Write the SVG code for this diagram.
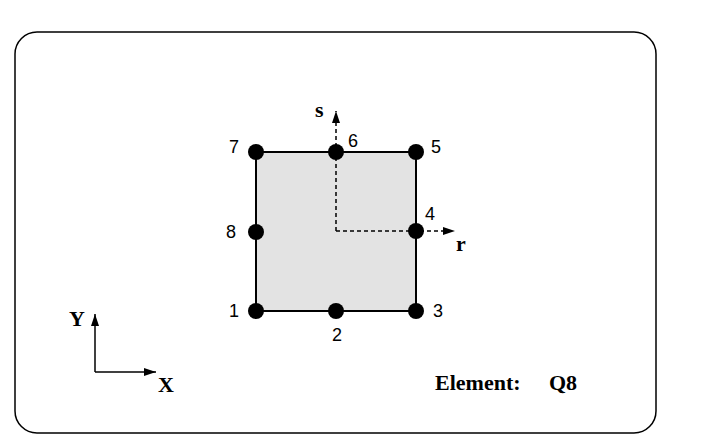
<svg xmlns="http://www.w3.org/2000/svg" width="705" height="448" viewBox="0 0 705 448">
<style>
.n{font-family:"Liberation Sans",Arial,sans-serif;font-size:18px}
.b{font-family:"Liberation Serif","Times New Roman",serif;font-size:22px;font-weight:bold}
.d{fill:#000}
</style>
<defs><marker id="a" markerWidth="12" markerHeight="8" refX="12" refY="4" orient="auto" markerUnits="userSpaceOnUse"><path d="M0,0L12,4L0,8z"/></marker></defs>
<rect x="0" y="0" width="705" height="448" fill="#fff"/>
<rect x="15" y="32" width="641" height="401" rx="22" fill="none" stroke="#000" stroke-width="1.5"/>
<g id="element"><rect x="256" y="152" width="160" height="159" fill="#e3e3e3" stroke="#000" stroke-width="2"/></g>
<g id="connectors" stroke="#000" stroke-width="1.5" fill="none">
<path d="M336,231V111" stroke-dasharray="4,3" marker-end="url(#a)"/>
<path d="M336,231H455" stroke-dasharray="4,3" marker-end="url(#a)"/>
<path d="M95,372V314" marker-end="url(#a)"/>
<path d="M95,372H156" marker-end="url(#a)"/>
</g>
<g id="nodes">
<g id="n1"><circle class="d" cx="256" cy="311" r="8"/><text class="n" x="229" y="317">1</text></g>
<g id="n2"><circle class="d" cx="336" cy="311" r="8"/><text class="n" x="332" y="341">2</text></g>
<g id="n3"><circle class="d" cx="416" cy="311" r="8"/><text class="n" x="433" y="317">3</text></g>
<g id="n4"><circle class="d" cx="416" cy="231" r="8"/><text class="n" x="425" y="220">4</text></g>
<g id="n5"><circle class="d" cx="416" cy="152" r="8"/><text class="n" x="431" y="153">5</text></g>
<g id="n6"><circle class="d" cx="336" cy="152" r="8"/><text class="n" x="348" y="147">6</text></g>
<g id="n7"><circle class="d" cx="256" cy="152" r="8"/><text class="n" x="229" y="153">7</text></g>
<g id="n8"><circle class="d" cx="256" cy="232" r="8"/><text class="n" x="226" y="238">8</text></g>
</g>
<text class="b" x="315" y="117">s</text>
<text class="b" x="456" y="251">r</text>
<text class="b" x="69" y="326" font-size="18">Y</text>
<text class="b" x="158" y="392" font-size="18">X</text>
<text class="b" x="435" y="390">Element:</text>
<text class="b" x="549" y="390">Q8</text>
</svg>
